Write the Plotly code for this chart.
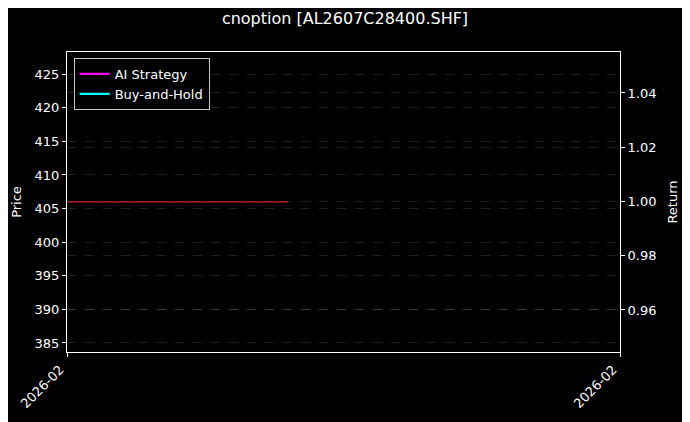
import plotly.graph_objects as go

# chart data
title_text = "cnoption [AL2607C28400.SHF]"
price_dates = ["2026-02-10", "2026-02-12"]
price_values = [406.0, 406.0]
strategy_dates = ["2026-02-10"]
strategy_returns = [1.0]
bh_dates = ["2026-02-10"]
bh_returns = [1.0]
x_range = ["2026-02-10", "2026-02-15"]
x_tick_labels = ["2026-02", "2026-02"]
price_range = [383.66, 428.3]
return_range = [0.9445, 1.0551]

font = "DejaVu Sans"
grid_col = "rgba(128,128,128,0.25)"

fig = go.Figure()
fig.add_trace(go.Scatter(x=price_dates, y=price_values, mode="lines", name="Price",
                         line=dict(color="#dc1f1f", width=1.4), showlegend=False))
fig.add_trace(go.Scatter(x=strategy_dates, y=strategy_returns, mode="lines", name="AI Strategy",
                         line=dict(color="#ff00ff", width=2.2), yaxis="y2"))
fig.add_trace(go.Scatter(x=bh_dates, y=bh_returns, mode="lines", name="Buy-and-Hold",
                         line=dict(color="#00ffff", width=2.2), yaxis="y2"))

axis_common = dict(showline=True, linecolor="white", linewidth=1, ticks="outside",
                   tickcolor="white", ticklen=4, tickfont=dict(color="white", size=13, family=font),
                   zeroline=False, automargin=False)

# the page body adds 8px, margins are shifted to compensate
fig.update_layout(
    width=690, height=422,
    paper_bgcolor="black", plot_bgcolor="black",
    margin=dict(l=59, r=78, t=44, b=78),
    font=dict(family=font, color="white", size=13),
    title=dict(text=title_text, x=0.4884, xanchor="center", y=0.976, yanchor="middle",
               font=dict(size=16, color="white", family=font), automargin=False),
    xaxis=dict(type="date", range=x_range, tickvals=x_range, ticktext=x_tick_labels,
               tickangle=-45, showgrid=False, mirror=True, ticklabelshift=-7,
               **axis_common),
    yaxis=dict(title=dict(text="Price", font=dict(size=13, color="white"), standoff=10),
               range=price_range, dtick=5, tick0=385, showgrid=True, gridcolor=grid_col,
               griddash="dash", gridwidth=0.5, **axis_common),
    yaxis2=dict(title=dict(text="Return", font=dict(size=13, color="white"), standoff=12),
                range=return_range, dtick=0.02, tick0=0.96, tickformat=".2f", overlaying="y",
                side="right", showgrid=True, gridcolor=grid_col, griddash="dash", gridwidth=0.5,
                **axis_common),
    legend=dict(x=0.012, y=0.98, xanchor="left", yanchor="top", bgcolor="black",
                bordercolor="rgba(220,220,220,0.9)", borderwidth=1,
                font=dict(color="white", size=13, family=font),
                itemwidth=30, tracegroupgap=2),
)

fig.write_html("out.html")
